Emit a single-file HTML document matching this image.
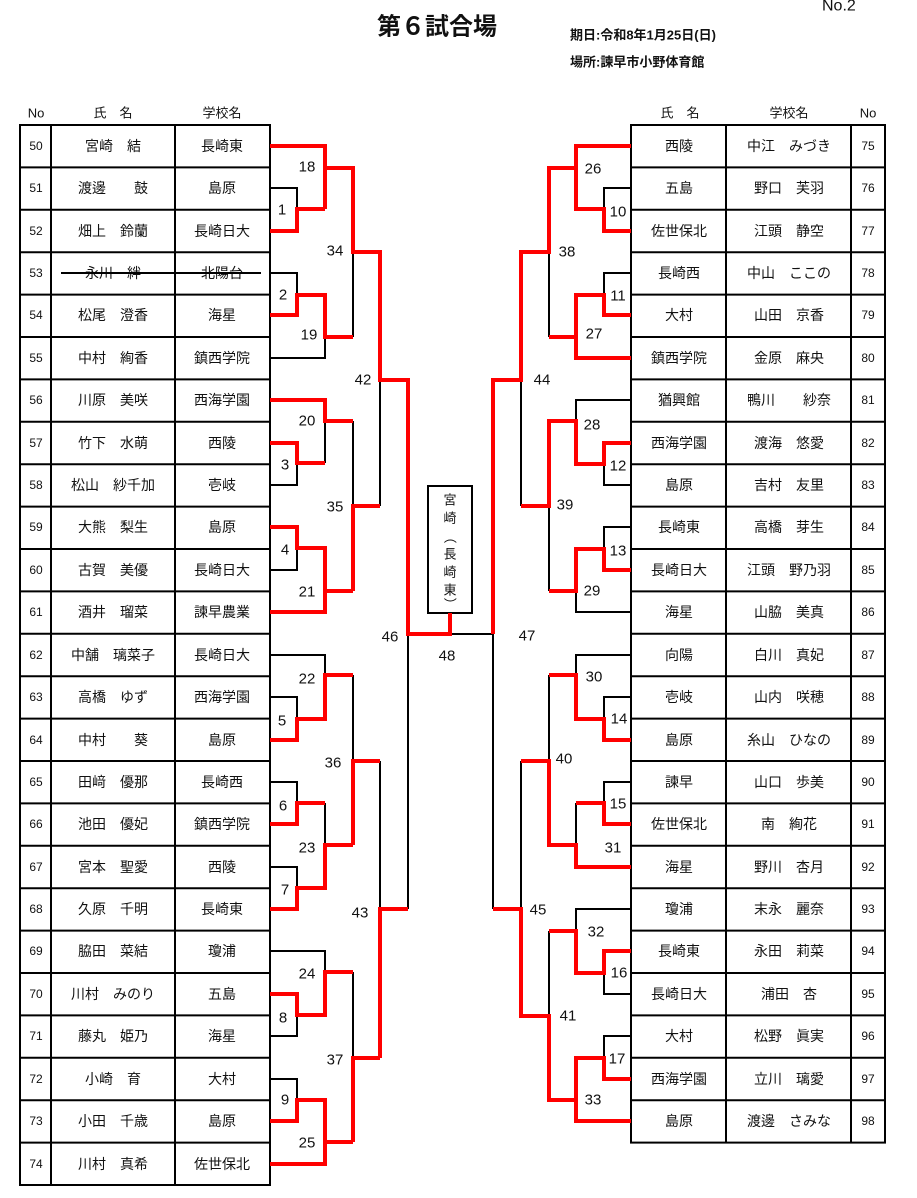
<!DOCTYPE html>
<html><head><meta charset="utf-8"><style>
html,body{margin:0;padding:0;background:#fff;}
svg{display:block;}
text{font-family:"Liberation Sans","Noto Sans CJK JP",sans-serif;fill:#111;}
.t{font-size:14px;text-anchor:middle;dominant-baseline:central;}
.n{font-size:12px;text-anchor:middle;dominant-baseline:central;}
.l{font-size:15px;text-anchor:middle;dominant-baseline:central;}
.k{fill:none;stroke:#000;stroke-width:2;}
.r{fill:none;stroke:#f00;stroke-width:4;}
</style></head><body>
<svg width="917" height="1198" viewBox="0 0 917 1198" xmlns="http://www.w3.org/2000/svg">
<text x="437" y="27" style="font-size:24px;font-weight:bold;text-anchor:middle;dominant-baseline:central;">第６試合場</text>
<text x="570" y="35" style="font-size:13px;font-weight:bold;dominant-baseline:central;">期日:令和8年1月25日(日)</text>
<text x="570" y="62" style="font-size:13px;font-weight:bold;dominant-baseline:central;">場所:諫早市小野体育館</text>
<text x="822" y="6" style="font-size:16px;dominant-baseline:central;">No.2</text>

<text class="n" x="36" y="113" style="font-size:13px">No</text>
<text class="n" x="113" y="113" style="font-size:13px">氏　名</text>
<text class="n" x="222" y="113" style="font-size:13px">学校名</text>
<text class="n" x="680" y="113" style="font-size:13px">氏　名</text>
<text class="n" x="789" y="113" style="font-size:13px">学校名</text>
<text class="n" x="868" y="113" style="font-size:13px">No</text>

<g class="k">
<rect x="20" y="125" width="250" height="1060"/>
<line x1="51" y1="125" x2="51" y2="1185"/><line x1="175" y1="125" x2="175" y2="1185"/>
<rect x="631" y="125" width="254" height="1017.6"/>
<line x1="726" y1="125" x2="726" y2="1142.6"/><line x1="851" y1="125" x2="851" y2="1142.6"/>
</g>

<g class="k">
<path d="M20 167.4H270M20 209.8H270M20 252.2H270M20 294.6H270M20 337H270M20 379.4H270M20 421.8H270M20 464.2H270M20 506.6H270M20 549H270M20 591.4H270M20 633.8H270M20 676.2H270M20 718.6H270M20 761H270M20 803.4H270M20 845.8H270M20 888.2H270M20 930.6H270M20 973H270M20 1015.4H270M20 1057.8H270M20 1100.2H270M20 1142.6H270"/>
<path d="M631 167.4H885M631 209.8H885M631 252.2H885M631 294.6H885M631 337H885M631 379.4H885M631 421.8H885M631 464.2H885M631 506.6H885M631 549H885M631 591.4H885M631 633.8H885M631 676.2H885M631 718.6H885M631 761H885M631 803.4H885M631 845.8H885M631 888.2H885M631 930.6H885M631 973H885M631 1015.4H885M631 1057.8H885M631 1100.2H885"/>
</g>

<g>
<text class="n" x="36" y="146">50</text><text class="t" x="113" y="146">宮崎　結</text><text class="t" x="222" y="146">長崎東</text>
<text class="n" x="36" y="188">51</text><text class="t" x="113" y="188">渡邊　　鼓</text><text class="t" x="222" y="188">島原</text>
<text class="n" x="36" y="231">52</text><text class="t" x="113" y="231">畑上　鈴蘭</text><text class="t" x="222" y="231">長崎日大</text>
<text class="n" x="36" y="273">53</text><text class="t" x="113" y="273">永川　絆</text><text class="t" x="222" y="273">北陽台</text>
<text class="n" x="36" y="315">54</text><text class="t" x="113" y="315">松尾　澄香</text><text class="t" x="222" y="315">海星</text>
<text class="n" x="36" y="358">55</text><text class="t" x="113" y="358">中村　絢香</text><text class="t" x="222" y="358">鎮西学院</text>
<text class="n" x="36" y="400">56</text><text class="t" x="113" y="400">川原　美咲</text><text class="t" x="222" y="400">西海学園</text>
<text class="n" x="36" y="443">57</text><text class="t" x="113" y="443">竹下　水萌</text><text class="t" x="222" y="443">西陵</text>
<text class="n" x="36" y="485">58</text><text class="t" x="113" y="485">松山　紗千加</text><text class="t" x="222" y="485">壱岐</text>
<text class="n" x="36" y="527">59</text><text class="t" x="113" y="527">大熊　梨生</text><text class="t" x="222" y="527">島原</text>
<text class="n" x="36" y="570">60</text><text class="t" x="113" y="570">古賀　美優</text><text class="t" x="222" y="570">長崎日大</text>
<text class="n" x="36" y="612">61</text><text class="t" x="113" y="612">酒井　瑠菜</text><text class="t" x="222" y="612">諫早農業</text>
<text class="n" x="36" y="655">62</text><text class="t" x="113" y="655">中舗　璃菜子</text><text class="t" x="222" y="655">長崎日大</text>
<text class="n" x="36" y="697">63</text><text class="t" x="113" y="697">高橋　ゆず</text><text class="t" x="222" y="697">西海学園</text>
<text class="n" x="36" y="740">64</text><text class="t" x="113" y="740">中村　　葵</text><text class="t" x="222" y="740">島原</text>
<text class="n" x="36" y="782">65</text><text class="t" x="113" y="782">田﨑　優那</text><text class="t" x="222" y="782">長崎西</text>
<text class="n" x="36" y="824">66</text><text class="t" x="113" y="824">池田　優妃</text><text class="t" x="222" y="824">鎮西学院</text>
<text class="n" x="36" y="867">67</text><text class="t" x="113" y="867">宮本　聖愛</text><text class="t" x="222" y="867">西陵</text>
<text class="n" x="36" y="909">68</text><text class="t" x="113" y="909">久原　千明</text><text class="t" x="222" y="909">長崎東</text>
<text class="n" x="36" y="951">69</text><text class="t" x="113" y="951">脇田　菜結</text><text class="t" x="222" y="951">瓊浦</text>
<text class="n" x="36" y="994">70</text><text class="t" x="113" y="994">川村　みのり</text><text class="t" x="222" y="994">五島</text>
<text class="n" x="36" y="1036">71</text><text class="t" x="113" y="1036">藤丸　姫乃</text><text class="t" x="222" y="1036">海星</text>
<text class="n" x="36" y="1079">72</text><text class="t" x="113" y="1079">小崎　育</text><text class="t" x="222" y="1079">大村</text>
<text class="n" x="36" y="1121">73</text><text class="t" x="113" y="1121">小田　千歳</text><text class="t" x="222" y="1121">島原</text>
<text class="n" x="36" y="1164">74</text><text class="t" x="113" y="1164">川村　真希</text><text class="t" x="222" y="1164">佐世保北</text>
</g>
<line x1="61" y1="273" x2="261" y2="273" stroke="#000" stroke-width="2"/>

<g>
<text class="t" x="679" y="146">西陵</text><text class="t" x="789" y="146">中江　みづき</text><text class="n" x="868" y="146">75</text>
<text class="t" x="679" y="188">五島</text><text class="t" x="789" y="188">野口　芙羽</text><text class="n" x="868" y="188">76</text>
<text class="t" x="679" y="231">佐世保北</text><text class="t" x="789" y="231">江頭　静空</text><text class="n" x="868" y="231">77</text>
<text class="t" x="679" y="273">長崎西</text><text class="t" x="789" y="273">中山　ここの</text><text class="n" x="868" y="273">78</text>
<text class="t" x="679" y="315">大村</text><text class="t" x="789" y="315">山田　京香</text><text class="n" x="868" y="315">79</text>
<text class="t" x="679" y="358">鎮西学院</text><text class="t" x="789" y="358">金原　麻央</text><text class="n" x="868" y="358">80</text>
<text class="t" x="679" y="400">猶興館</text><text class="t" x="789" y="400">鴨川　　紗奈</text><text class="n" x="868" y="400">81</text>
<text class="t" x="679" y="443">西海学園</text><text class="t" x="789" y="443">渡海　悠愛</text><text class="n" x="868" y="443">82</text>
<text class="t" x="679" y="485">島原</text><text class="t" x="789" y="485">吉村　友里</text><text class="n" x="868" y="485">83</text>
<text class="t" x="679" y="527">長崎東</text><text class="t" x="789" y="527">高橋　芽生</text><text class="n" x="868" y="527">84</text>
<text class="t" x="679" y="570">長崎日大</text><text class="t" x="789" y="570">江頭　野乃羽</text><text class="n" x="868" y="570">85</text>
<text class="t" x="679" y="612">海星</text><text class="t" x="789" y="612">山脇　美真</text><text class="n" x="868" y="612">86</text>
<text class="t" x="679" y="655">向陽</text><text class="t" x="789" y="655">白川　真妃</text><text class="n" x="868" y="655">87</text>
<text class="t" x="679" y="697">壱岐</text><text class="t" x="789" y="697">山内　咲穂</text><text class="n" x="868" y="697">88</text>
<text class="t" x="679" y="740">島原</text><text class="t" x="789" y="740">糸山　ひなの</text><text class="n" x="868" y="740">89</text>
<text class="t" x="679" y="782">諫早</text><text class="t" x="789" y="782">山口　歩美</text><text class="n" x="868" y="782">90</text>
<text class="t" x="679" y="824">佐世保北</text><text class="t" x="789" y="824">南　絢花</text><text class="n" x="868" y="824">91</text>
<text class="t" x="679" y="867">海星</text><text class="t" x="789" y="867">野川　杏月</text><text class="n" x="868" y="867">92</text>
<text class="t" x="679" y="909">瓊浦</text><text class="t" x="789" y="909">末永　麗奈</text><text class="n" x="868" y="909">93</text>
<text class="t" x="679" y="951">長崎東</text><text class="t" x="789" y="951">永田　莉菜</text><text class="n" x="868" y="951">94</text>
<text class="t" x="679" y="994">長崎日大</text><text class="t" x="789" y="994">浦田　杏</text><text class="n" x="868" y="994">95</text>
<text class="t" x="679" y="1036">大村</text><text class="t" x="789" y="1036">松野　眞実</text><text class="n" x="868" y="1036">96</text>
<text class="t" x="679" y="1079">西海学園</text><text class="t" x="789" y="1079">立川　璃愛</text><text class="n" x="868" y="1079">97</text>
<text class="t" x="679" y="1121">島原</text><text class="t" x="789" y="1121">渡邊　さみな</text><text class="n" x="868" y="1121">98</text>
</g>

<g class="k">
<polyline points="270,188 297,188 297,209"/>
<polyline points="353,252 353,337"/>
<polyline points="270,273 297,273 297,295"/>
<polyline points="270,358 325,358 325,337"/>
<polyline points="380,380 380,506"/>
<polyline points="325,421 325,463"/>
<polyline points="270,485 297,485 297,463"/>
<polyline points="353,421 353,506"/>
<polyline points="270,570 297,570 297,548"/>
<polyline points="270,655 325,655 325,675"/>
<polyline points="270,697 297,697 297,719"/>
<polyline points="353,675 353,761"/>
<polyline points="270,782 297,782 297,803"/>
<polyline points="325,803 325,845"/>
<polyline points="270,867 297,867 297,888"/>
<polyline points="380,761 380,909"/>
<polyline points="408,634 408,909"/>
<polyline points="270,951 325,951 325,972"/>
<polyline points="270,1036 297,1036 297,1015"/>
<polyline points="353,972 353,1058"/>
<polyline points="270,1079 297,1079 297,1100"/>
<polyline points="450,634 493,634 493,909"/>

<polyline points="631,188 604,188 604,209"/>
<polyline points="549,252 549,337"/>
<polyline points="631,273 604,273 604,295"/>
<polyline points="521,380 521,506"/>
<polyline points="631,400 576,400 576,421"/>
<polyline points="631,485 604,485 604,464"/>
<polyline points="549,506 549,591"/>
<polyline points="631,527 604,527 604,549"/>
<polyline points="631,612 576,612 576,591"/>
<polyline points="631,655 576,655 576,675"/>
<polyline points="631,697 604,697 604,719"/>
<polyline points="549,675 549,761"/>
<polyline points="521,761 521,909"/>
<polyline points="631,782 604,782 604,803"/>
<polyline points="576,803 576,845"/>
<polyline points="631,909 576,909 576,931"/>
<polyline points="631,994 604,994 604,973"/>
<polyline points="549,931 549,1016"/>
<polyline points="631,1036 604,1036 604,1058"/>
<rect x="428" y="486" width="44" height="127"/>
</g>

<g class="r">
<polyline points="270,231 297,231 297,209 325,209"/>
<polyline points="270,146 325,146 325,209"/>
<polyline points="325,168 353,168 353,252 380,252 380,380 408,380 408,634 450,634 450,613"/>
<polyline points="270,315 297,315 297,295 325,295 325,337 353,337"/>
<polyline points="270,400 325,400 325,421 353,421"/>
<polyline points="270,443 297,443 297,463 325,463"/>
<polyline points="380,506 353,506 353,591"/>
<polyline points="270,527 297,527 297,548 325,548 325,591 353,591"/>
<polyline points="270,612 325,612 325,591"/>
<polyline points="270,740 297,740 297,719 325,719 325,675 353,675"/>
<polyline points="380,761 353,761 353,845"/>
<polyline points="270,824 297,824 297,803 325,803"/>
<polyline points="270,909 297,909 297,888 325,888 325,845 353,845"/>
<polyline points="408,909 380,909 380,1058"/>
<polyline points="270,994 297,994 297,1015 325,1015 325,972 353,972"/>
<polyline points="380,1058 353,1058 353,1142"/>
<polyline points="270,1121 297,1121 297,1100 325,1100 325,1142 353,1142"/>
<polyline points="270,1164 325,1164 325,1142"/>

<polyline points="631,146 576,146 576,209 604,209 604,231 631,231"/>
<polyline points="576,168 549,168 549,252 521,252 521,380 493,380 493,634"/>
<polyline points="631,315 604,315 604,295 576,295 576,337 549,337"/>
<polyline points="631,358 576,358 576,337"/>
<polyline points="631,443 604,443 604,464 576,464 576,421 549,421 549,506 521,506"/>
<polyline points="631,570 604,570 604,549 576,549 576,591 549,591"/>
<polyline points="631,740 604,740 604,719 576,719 576,675 549,675"/>
<polyline points="521,761 549,761 549,845 576,845 576,867 631,867"/>
<polyline points="631,824 604,824 604,803 576,803"/>
<polyline points="493,909 521,909 521,1016 549,1016 549,1100 576,1100"/>
<polyline points="549,931 576,931 576,973 604,973 604,951 631,951"/>
<polyline points="631,1079 604,1079 604,1058 576,1058 576,1121 631,1121"/>
</g>

<g style="font-size:13px;text-anchor:middle;dominant-baseline:central;">
<text x="450" y="500">宮</text><text x="450" y="518">崎</text>
<text x="450" y="537" transform="rotate(90 450 537)">（</text>
<text x="450" y="554">長</text><text x="450" y="572">崎</text><text x="450" y="590">東</text>
<text x="450" y="604" transform="rotate(90 450 604)">）</text>
</g>

<g>
<text class="l" x="307" y="167">18</text><text class="l" x="282" y="210">1</text>
<text class="l" x="335" y="251">34</text><text class="l" x="283" y="295">2</text>
<text class="l" x="309" y="335">19</text><text class="l" x="363" y="380">42</text>
<text class="l" x="307" y="421">20</text><text class="l" x="285" y="465">3</text>
<text class="l" x="335" y="507">35</text><text class="l" x="285" y="550">4</text>
<text class="l" x="307" y="592">21</text><text class="l" x="390" y="637">46</text>
<text class="l" x="447" y="656">48</text><text class="l" x="527" y="636">47</text>
<text class="l" x="307" y="679">22</text><text class="l" x="282" y="721">5</text>
<text class="l" x="333" y="763">36</text><text class="l" x="283" y="806">6</text>
<text class="l" x="307" y="848">23</text><text class="l" x="285" y="890">7</text>
<text class="l" x="360" y="913">43</text><text class="l" x="307" y="974">24</text>
<text class="l" x="283" y="1018">8</text><text class="l" x="335" y="1060">37</text>
<text class="l" x="285" y="1100">9</text><text class="l" x="307" y="1143">25</text>

<text class="l" x="593" y="169">26</text><text class="l" x="618" y="212">10</text>
<text class="l" x="567" y="252">38</text><text class="l" x="618" y="296">11</text>
<text class="l" x="594" y="334">27</text><text class="l" x="542" y="380">44</text>
<text class="l" x="592" y="425">28</text><text class="l" x="618" y="466">12</text>
<text class="l" x="565" y="505">39</text><text class="l" x="618" y="551">13</text>
<text class="l" x="592" y="591">29</text>
<text class="l" x="594" y="677">30</text><text class="l" x="619" y="719">14</text>
<text class="l" x="564" y="759">40</text><text class="l" x="618" y="804">15</text>
<text class="l" x="613" y="848">31</text><text class="l" x="538" y="910">45</text>
<text class="l" x="596" y="932">32</text><text class="l" x="619" y="973">16</text>
<text class="l" x="568" y="1016">41</text><text class="l" x="617" y="1059">17</text>
<text class="l" x="593" y="1100">33</text>
</g>
</svg>
</body></html>
